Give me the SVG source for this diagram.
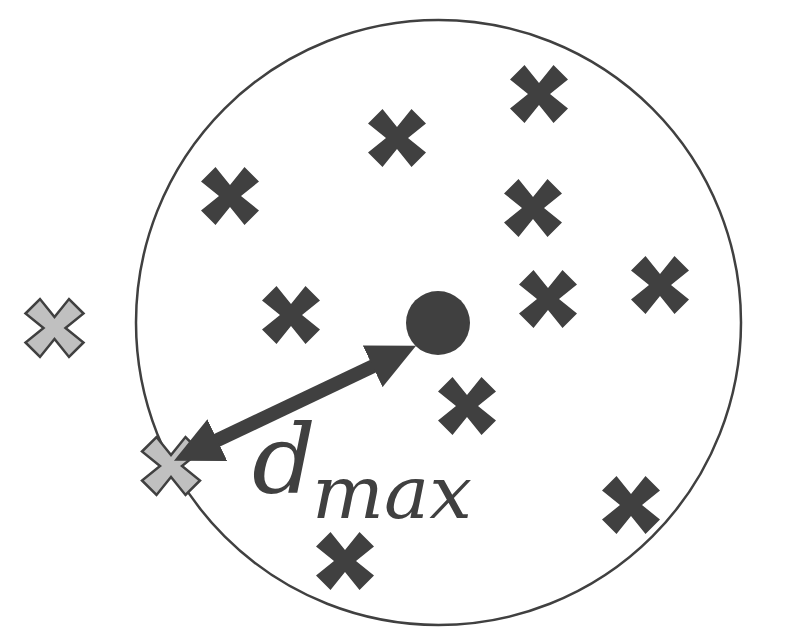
<svg xmlns="http://www.w3.org/2000/svg" xmlns:xlink="http://www.w3.org/1999/xlink" width="794" height="631" viewBox="0 0 794 631">
  <style>
    .bg { fill: #ffffff; }
    .ring { fill: none; stroke: #404040; stroke-width: 2.5; }
    .pt { fill: #404040; stroke: none; }
    .out { fill: #c0c0c0; stroke: #404040; stroke-width: 2.5; stroke-linejoin: miter; }
    .center { fill: #404040; }
    .arrow { stroke: #404040; stroke-width: 14; fill: none; }
    .lbl { font-family: "DejaVu Serif", "Liberation Serif", serif; font-style: italic; fill: #404040; }
  </style>
  <defs>
    <polygon id="cross" points="-29,-14.5 -14.5,-29 0,-11 14.5,-29 29,-14.5 11,0 29,14.5 14.5,29 0,11 -14.5,29 -29,14.5 -11,0"/>
    <marker id="head" viewBox="0 0 48 46" refX="2" refY="23" markerWidth="48" markerHeight="46" markerUnits="userSpaceOnUse" orient="auto-start-reverse">
      <path d="M0,0 L48,23 L0,46 z" fill="#404040"/>
    </marker>
  </defs>
  <rect class="bg" x="0" y="0" width="794" height="631"/>
  <g id="boundary">
    <circle class="ring" cx="438.5" cy="322.5" r="302.5"/>
  </g>
  <g id="p1"><use xlink:href="#cross" class="pt" transform="translate(539,94)"/></g>
  <g id="p2"><use xlink:href="#cross" class="pt" transform="translate(397,138)"/></g>
  <g id="p3"><use xlink:href="#cross" class="pt" transform="translate(230,196)"/></g>
  <g id="p4"><use xlink:href="#cross" class="pt" transform="translate(533,208)"/></g>
  <g id="p5"><use xlink:href="#cross" class="pt" transform="translate(291,315)"/></g>
  <g id="p6"><use xlink:href="#cross" class="pt" transform="translate(548,299)"/></g>
  <g id="p7"><use xlink:href="#cross" class="pt" transform="translate(660,285)"/></g>
  <g id="p8"><use xlink:href="#cross" class="pt" transform="translate(467,406)"/></g>
  <g id="p9"><use xlink:href="#cross" class="pt" transform="translate(631,505)"/></g>
  <g id="p10"><use xlink:href="#cross" class="pt" transform="translate(345,561)"/></g>
  <g id="out1"><use xlink:href="#cross" class="out" transform="translate(54.5,328)"/></g>
  <g id="out2"><use xlink:href="#cross" class="out" transform="translate(171,466)"/></g>
  <g id="centroid"><circle class="center" cx="438" cy="323" r="32"/></g>
  <g id="connectors">
    <line class="arrow" x1="215.5" y1="441" x2="374.5" y2="365.5" marker-start="url(#head)" marker-end="url(#head)"/>
  </g>
  <g id="label">
    <text class="lbl" x="252" y="493" font-size="96" textLength="64" lengthAdjust="spacingAndGlyphs">d</text>
    <text class="lbl" x="312" y="518" font-size="72" textLength="160" lengthAdjust="spacingAndGlyphs">max</text>
  </g>
</svg>
